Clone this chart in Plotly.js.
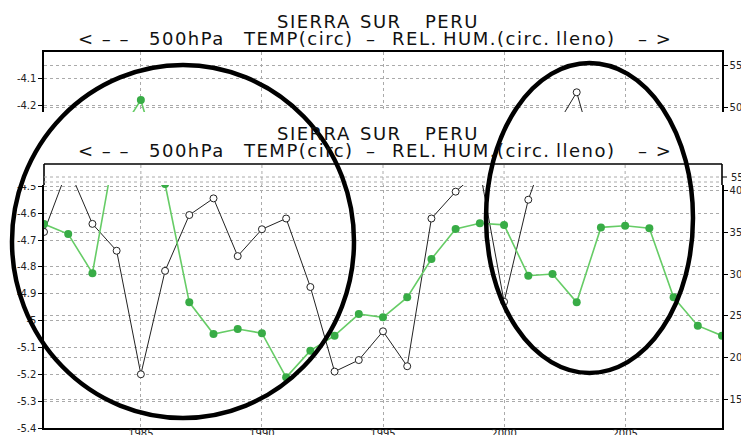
<!DOCTYPE html>
<html>
<head>
<meta charset="utf-8">
<script src="https://cdn.plot.ly/plotly-3.0.1.min.js"></script>
<style>html,body{margin:0;padding:0;background:#fff;}#chart{width:741px;height:435px;}</style>
</head>
<body>
<div id="chart"></div>
<script>
// ---- data ----
const years = [1981,1982,1983,1984,1985,1986,1987,1988,1989,1990,1991,1992,1993,1994,1995,1996,1997,1998,1999,2000,2001,2002,2003,2004,2005,2006,2007,2008,2009];
// 500hPa temperature (open circles, left axis)
const tempVals = [-4.67,-4.43,-4.64,-4.74,-5.20,-4.815,-4.607,-4.545,-4.76,-4.66,-4.62,-4.875,-5.19,-5.147,-5.04,-5.17,-4.62,-4.52,-4.44,-4.93,-4.55,-4.30,-4.15,-4.47,null,null,null,null,null];
// relative humidity (filled circles, right axis)
const rhVals = [36.0,34.8,30.1,46.3,50.9,40.8,26.6,22.8,23.4,22.9,17.6,20.8,22.6,25.2,24.8,27.2,31.8,35.4,36.1,35.9,29.8,30.0,26.6,35.6,35.8,35.5,27.2,23.8,22.6];

const xTickVals = [1985,1990,1995,2000,2005];
const xTickText = ["1985","1990","1995","2000","2005"];
const leftTickVals = [-5.4,-5.3,-5.2,-5.1,-5.0,-4.9,-4.8,-4.7,-4.6,-4.5,-4.4,-4.3,-4.2,-4.1];
const leftTickText = ["-5.4","-5.3","-5.2","-5.1","-5","-4.9","-4.8","-4.7","-4.6","-4.5","-4.4","-4.3","-4.2","-4.1"];
const rightTickVals = [15,20,25,30,35,40,45,50,55];
const rightTickText = ["15","20","25","30","35","40","45","50","55"];

// title words (two lines), each word group with its horizontal centre in pixels
const titleWords1 = ["SIERRA","SUR","PERU"];
const titleCenters1 = [314,381,452];
const titleWords2 = ["&lt; – –","500hPa","TEMP(circ)","–","REL.","HUM.(circ.","lleno)","– &gt;"];
const titleCenters2 = [104,187,298,371,415,497,586,655];

// ---- layout helpers (pixel -> paper) ----
const L = 44, R = 722, T = 52, B = 428;
const px = v => (v - L) / (R - L);
const py = v => (B - v) / (B - T);

const FONT = "DejaVu Sans, Liberation Sans, sans-serif";
const wide = s => '<span style="letter-spacing:1.5px">' + s + '</span>';

const traces = [
  {
    x: years, y: tempVals, xaxis: 'x', yaxis: 'y', type: 'scatter', mode: 'lines+markers',
    line: {color: '#222', width: 1},
    marker: {symbol: 'circle', size: 7, color: '#fff', line: {color: '#222', width: 1}},
    connectgaps: false, hoverinfo: 'skip'
  },
  {
    x: years, y: rhVals, xaxis: 'x', yaxis: 'y2', type: 'scatter', mode: 'lines+markers',
    line: {color: '#66cc66', width: 1.6},
    marker: {symbol: 'circle', size: 8, color: '#38ac46'},
    hoverinfo: 'skip'
  }
];

const gridCol = '#aaaaaa';
const shapes = [];
// pasted band (copy of the chart top) covering the middle of the picture
shapes.push({type:'rect', xref:'paper', yref:'paper', x0:px(0), x1:px(741), y0:py(185), y1:py(112),
  fillcolor:'#fff', line:{width:0}, layer:'above'});
// pasted frame pieces
shapes.push({type:'line', xref:'paper', yref:'paper', x0:0, x1:1, y0:py(164), y1:py(164), line:{color:'#000', width:1.6}, layer:'above'});
shapes.push({type:'line', xref:'paper', yref:'paper', x0:0, x1:0, y0:py(164), y1:py(185), line:{color:'#000', width:1.6}, layer:'above'});
shapes.push({type:'line', xref:'paper', yref:'paper', x0:1, x1:1, y0:py(164), y1:py(185), line:{color:'#000', width:1.6}, layer:'above'});
shapes.push({type:'line', xref:'paper', yref:'paper', x0:1, x1:px(727), y0:py(177), y1:py(177), line:{color:'#000', width:1}, layer:'above'});
[177,182].forEach(v => shapes.push({type:'line', xref:'paper', yref:'paper', x0:0, x1:1, y0:py(v), y1:py(v), line:{color:gridCol, width:1, dash:'dot'}, layer:'above'}));
xTickVals.forEach(v => shapes.push({type:'line', xref:'x', yref:'paper', x0:v, x1:v, y0:py(165), y1:py(185), line:{color:gridCol, width:1, dash:'dot'}, layer:'above'}));
// hand-drawn ellipses
shapes.push({type:'circle', xref:'paper', yref:'paper', x0:px(12), x1:px(354), y0:py(418), y1:py(65), line:{color:'#000', width:4.5}, layer:'above'});
shapes.push({type:'circle', xref:'paper', yref:'paper', x0:px(486), x1:px(693), y0:py(373), y1:py(63), line:{color:'#000', width:4.5}, layer:'above'});

const titleFont = {family: FONT, size: 18, color: '#111'};
const annotations = [];
[0, 112].forEach(shift => {
  titleWords1.forEach((w, i) => annotations.push({text: wide(w), xref:'paper', yref:'paper', x:px(titleCenters1[i]), y:py(21 + shift),
    xanchor:'center', yanchor:'middle', showarrow:false, font:titleFont}));
  titleWords2.forEach((w, i) => annotations.push({text: wide(w), xref:'paper', yref:'paper', x:px(titleCenters2[i]), y:py(38 + shift),
    xanchor:'center', yanchor:'middle', showarrow:false, font:titleFont}));
});
annotations.push({text: rightTickText[8], xref:'paper', yref:'paper', x:px(729), y:py(177), xanchor:'left', yanchor:'middle',
  showarrow:false, font:{family: FONT, size: 10, color:'#222'}});

const layout = {
  width: 741, height: 435,
  margin: {l: L, r: 741 - R, t: T, b: 435 - B, pad: 0},
  paper_bgcolor: '#fff', plot_bgcolor: '#fff',
  showlegend: false,
  xaxis: {
    range: [1981, 2009], tickvals: xTickVals, ticktext: xTickText,
    showgrid: true, gridcolor: gridCol, griddash: 'dot', gridwidth: 1,
    showline: true, linecolor: '#000', linewidth: 1.6, mirror: true,
    ticks: '', zeroline: false, ticklabelstandoff: -5,
    tickfont: {family: FONT, size: 10, color: '#222'}
  },
  yaxis: {
    range: [-5.4, -4.0], tickvals: leftTickVals, ticktext: leftTickText,
    showgrid: true, gridcolor: gridCol, griddash: 'dot', gridwidth: 1,
    showline: true, linecolor: '#000', linewidth: 1.6,
    ticks: 'outside', ticklen: 4, tickcolor: '#000', zeroline: false,
    tickfont: {family: FONT, size: 10, color: '#222'}
  },
  yaxis2: {
    range: [11.52, 56.65], overlaying: 'y', side: 'right',
    tickvals: rightTickVals, ticktext: rightTickText,
    showgrid: true, gridcolor: gridCol, griddash: 'dot', gridwidth: 1,
    showline: true, linecolor: '#000', linewidth: 1.6,
    ticks: 'outside', ticklen: 4, tickcolor: '#000', zeroline: false,
    tickfont: {family: FONT, size: 10, color: '#222'}
  },
  shapes: shapes,
  annotations: annotations
};

Plotly.newPlot('chart', traces, layout, {staticPlot: true, displayModeBar: false});
</script>
</body>
</html>
